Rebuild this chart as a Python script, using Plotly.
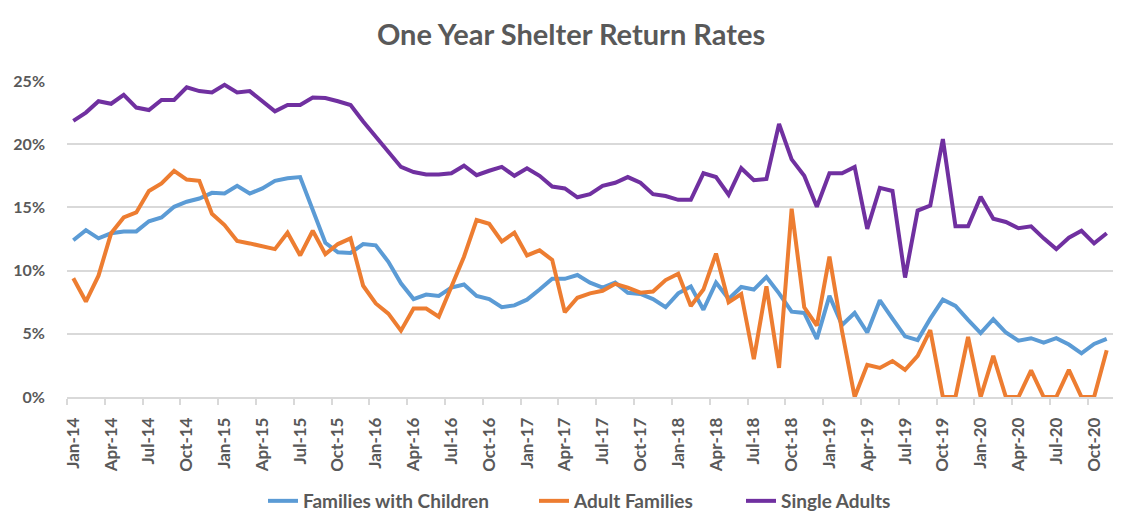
import pandas as pd
import plotly.graph_objects as go

# Categories: monthly, Jan-14 .. Nov-20
months = [d.strftime("%b-%y") for d in pd.date_range("2014-01-01", "2020-11-01", freq="MS")]

# Series values (percent)
families_with_children = [
    12.4, 13.2, 12.55, 12.95, 13.1, 13.1, 13.9, 14.2, 15.05, 15.45, 15.7, 16.15,
    16.1, 16.7, 16.1, 16.5, 17.1, 17.3, 17.4, 14.9, 12.2, 11.45, 11.4, 12.1,
    12.0, 10.7, 9.0, 7.75, 8.1, 8.0, 8.65, 8.9, 8.0, 7.75, 7.1, 7.25,
    7.7, 8.5, 9.35, 9.35, 9.65, 9.05, 8.65, 9.05, 8.25, 8.15, 7.75, 7.1,
    8.2, 8.75, 6.9, 9.05, 7.75, 8.7, 8.5, 9.5, 8.2, 6.75, 6.65, 4.6,
    8.0, 5.7, 6.65, 5.1, 7.65, 6.2, 4.8, 4.5, 6.2, 7.7, 7.2, 6.1,
    5.05, 6.15, 5.1, 4.45, 4.65, 4.3, 4.65, 4.15, 3.45, 4.2, 4.6,
]
adult_families = [
    9.4, 7.55, 9.6, 12.95, 14.2, 14.6, 16.3, 16.9, 17.9, 17.2, 17.1, 14.5,
    13.6, 12.35, 12.15, 11.9, 11.7, 13.0, 11.2, 13.15, 11.3, 12.1, 12.55, 8.8,
    7.4, 6.6, 5.25, 7.0, 7.0, 6.35, 8.7, 11.1, 14.0, 13.7, 12.3, 13.0,
    11.2, 11.6, 10.85, 6.7, 7.85, 8.2, 8.4, 8.95, 8.65, 8.25, 8.35, 9.25,
    9.75, 7.2, 8.5, 11.35, 7.5, 8.15, 3.0, 8.75, 2.3, 14.9, 7.1, 5.65,
    11.1, 5.2, 0.0, 2.55, 2.3, 2.85, 2.15, 3.25, 5.3, 0.0, 0.0, 4.75,
    0.0, 3.25, 0.0, 0.0, 2.1, 0.0, 0.0, 2.15, 0.0, 0.0, 3.7,
]
single_adults = [
    21.85, 22.5, 23.4, 23.2, 23.9, 22.9, 22.7, 23.5, 23.5, 24.5, 24.2, 24.1,
    24.7, 24.1, 24.2, 23.4, 22.6, 23.1, 23.1, 23.7, 23.65, 23.4, 23.1, 21.8,
    20.6, 19.4, 18.2, 17.8, 17.6, 17.6, 17.7, 18.3, 17.55, 17.9, 18.2, 17.5,
    18.1, 17.5, 16.65, 16.5, 15.8, 16.05, 16.7, 16.95, 17.4, 16.95, 16.05, 15.9,
    15.6, 15.6, 17.7, 17.4, 16.0, 18.1, 17.15, 17.25, 21.6, 18.8, 17.5, 15.05,
    17.7, 17.7, 18.2, 13.3, 16.55, 16.3, 9.45, 14.75, 15.15, 20.4, 13.5, 13.5,
    15.85, 14.1, 13.85, 13.35, 13.5, 12.55, 11.7, 12.6, 13.15, 12.15, 12.95,
]

series_names = ["Families with Children", "Adult Families", "Single Adults"]
series_values = [families_with_children, adult_families, single_adults]
series_colors = ["#5B9BD5", "#ED7D31", "#7030A0"]

x_idx = list(range(len(months)))
tick_idx = x_idx[::3]
tick_text = [months[i] for i in tick_idx]
boundary_ticks = [i - 0.5 for i in tick_idx]

FONT = "Lato"
GRAY = "#595959"
GRID = "#d9d9d9"
W, H = 1126, 522  # page body has an 8px margin

legend_ids = ["legend", "legend2", "legend3"]
legend_left_px = [255, 526, 733]

fig = go.Figure()
for name, vals, color, lid in zip(series_names, series_values, series_colors, legend_ids):
    fig.add_trace(go.Scatter(
        x=x_idx, y=[v / 100 for v in vals], mode="lines", name=name,
        line=dict(color=color, width=4),
        hovertext=months, legend=lid,
    ))

legend_font = dict(family=FONT, size=19, color=GRAY, weight="bold")
legend_layouts = {}
for lid, px in zip(legend_ids, legend_left_px):
    legend_layouts[lid] = dict(
        orientation="h", xref="container", x=px / W, xanchor="left",
        yref="container", y=1 - 493 / H, yanchor="middle",
        font=legend_font, bgcolor="rgba(0,0,0,0)",
    )

fig.update_layout(
    width=W, height=H,
    autosize=False,
    paper_bgcolor="white", plot_bgcolor="white",
    margin=dict(l=59, r=21, t=73, b=133, autoexpand=False),
    font=dict(family=FONT, color=GRAY),
    title=dict(
        text="One Year Shelter Return Rates",
        font=dict(family=FONT, size=29, color=GRAY, weight="bold"),
        x=0.5, xref="container", xanchor="center",
        y=1 - 27 / H, yref="container", yanchor="middle",
    ),
    showlegend=True,
    **legend_layouts,
)

fig.update_xaxes(
    range=[-0.5, len(months) - 0.5],
    tickmode="array", tickvals=tick_idx, ticktext=tick_text,
    tickangle=-90,
    tickfont=dict(family=FONT, size=17, color=GRAY, weight="bold"),
    ticks="", ticklabelstandoff=12,
    showgrid=False, zeroline=False,
    showline=True, linecolor=GRID, linewidth=1.5,
    minor=dict(tickmode="array", tickvals=boundary_ticks, ticks="outside",
               ticklen=6, tickcolor=GRID, tickwidth=1.5, showgrid=False),
)
fig.update_yaxes(
    range=[0, 0.25], tickmode="linear", tick0=0, dtick=0.05,
    tickformat=".0%",
    tickfont=dict(family=FONT, size=16, color=GRAY, weight="bold"),
    ticks="", ticklabelstandoff=21,
    showgrid=True, gridcolor=GRID, gridwidth=1.5,
    zeroline=False, showline=False,
)

fig.write_html("out.html")
